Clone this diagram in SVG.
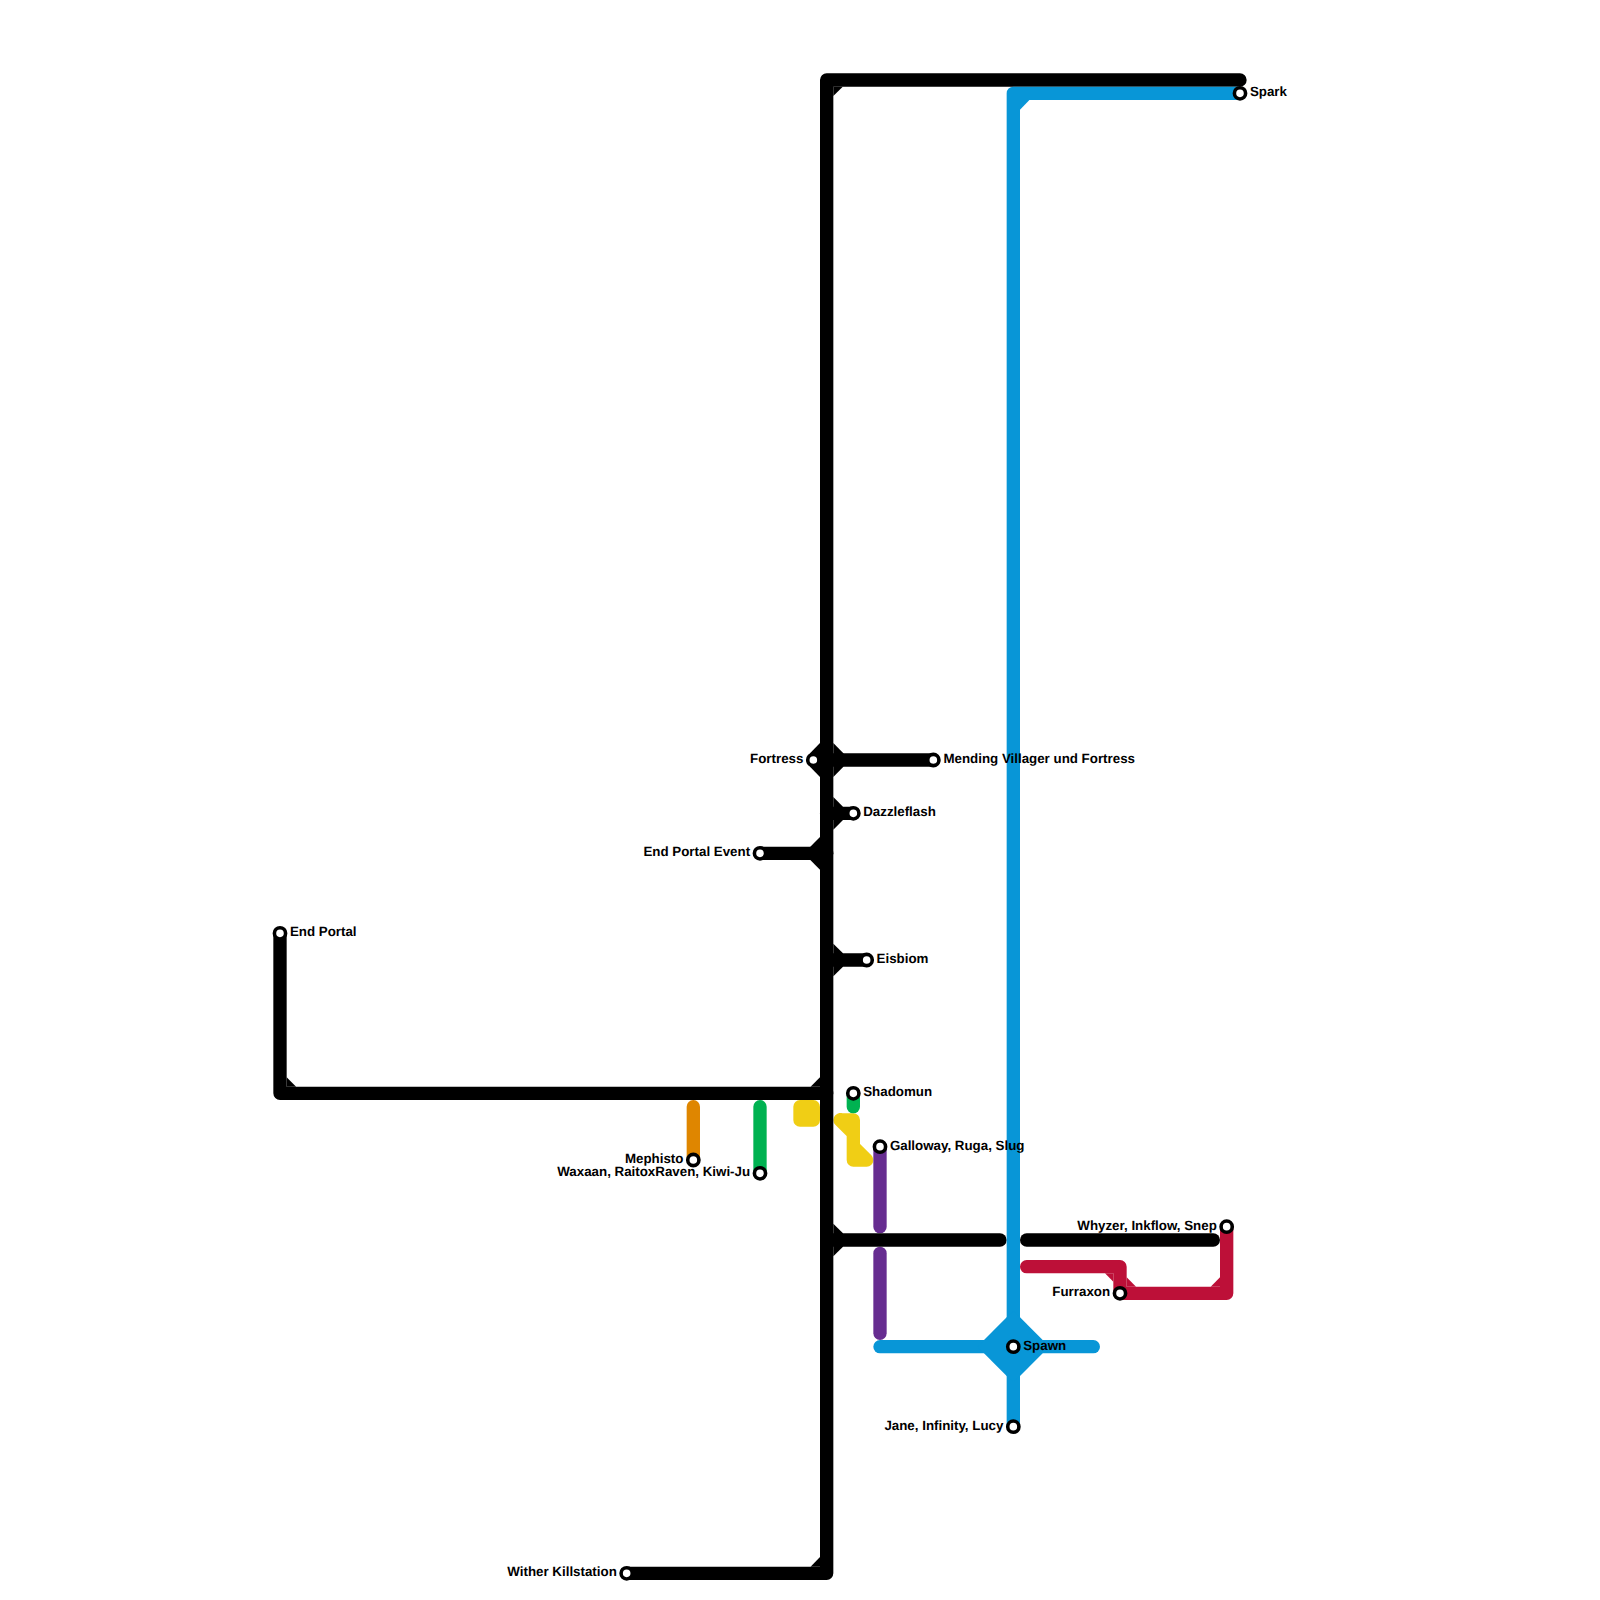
<svg xmlns="http://www.w3.org/2000/svg" width="1600" height="1600" viewBox="0 0 1600 1600">
<defs>
<style>
.l{fill:none;stroke-width:13.33;stroke-linecap:round;stroke-linejoin:round}
.k{stroke:#000}.b{stroke:#0896d7}.r{stroke:#bd1038}.y{stroke:#f0ce15;fill:#f0ce15}.g{stroke:#00b251}.o{stroke:#df8600}.p{stroke:#662c90}
.fk{fill:#000}.fb{fill:#0896d7}.fr{fill:#bd1038}
.s{fill:#fff;stroke:#000;stroke-width:3.6}
text{font-family:"Liberation Sans",Arial,sans-serif;font-weight:700;font-size:13.33px;fill:#000;text-rendering:geometricPrecision}
.e{text-anchor:end}
</style>
</defs>
<rect width="1600" height="1600" fill="#fff"/>
<g id="connectors">
<path class="l y" d="M800,1106.67H813.33V1120H800Z"/>
<path class="l y" d="M840,1120H853.33V1160H866.67L853.33,1146.67M840,1120L853.33,1133.33"/>
<path class="l g" d="M853.33,1093.33V1106.67"/>
<path class="l o" d="M693.33,1106.67V1160"/>
<path class="l g" d="M760,1106.67V1173.33"/>
<path class="l p" d="M880,1146.67V1226.67"/>
<path class="l p" d="M880,1253.33V1333.33"/>
<path class="l r" d="M1026.67,1266.67H1120V1293.33H1226.67V1226.67"/>
<polygon class="fr" points="1105,1273.33 1113.33,1281.7 1113.33,1273.33"/>
<polygon class="fr" points="1126.67,1277.3 1136.03,1286.67 1126.67,1286.67"/>
<polygon class="fr" points="1210.7,1286.67 1220,1277.3 1220,1286.67"/>
<path class="l k" d="M280,933.33V1093.33H826.67"/>
<path class="l k" d="M626.67,1573.33H826.67V80H1240"/>
<path class="l k" d="M826.67,760H933.33"/>
<path class="l k" d="M813.33,760H826.67"/>
<path class="l k" d="M826.67,813.33H853.33"/>
<path class="l k" d="M760,853.33H826.67"/>
<path class="l k" d="M826.67,960H866.67"/>
<path class="l k" d="M826.67,1240H1000"/>
<path class="l k" d="M1026.67,1240H1213.33"/>
<polygon class="fk" points="833.33,96.1 842.76,86.67 833.33,86.67"/>
<polygon class="fk" points="286.67,1077.33 296.1,1086.67 286.67,1086.67"/>
<polygon class="fk" points="820,1077.33 810.57,1086.67 820,1086.67"/>
<polygon class="fk" points="820,1557 810.57,1566.67 820,1566.67"/>
<polygon class="fk" points="820,743 810,753.33 810,766.67 820,777"/>
<polygon class="fk" points="833.33,743 843.4,753.33 843.4,766.67 833.33,777"/>
<polygon class="fk" points="833.33,797 843,806.67 843,820 833.33,829.67"/>
<polygon class="fk" points="820,837 810.3,846.67 810.3,860 820,869.67"/>
<polygon class="fk" points="833.33,943.67 843,953.33 843,966.67 833.33,976.33"/>
<polygon class="fk" points="833.33,1223.67 843,1233.33 843,1246.67 833.33,1256.33"/>
<path class="l b" d="M1240,93.33H1013.33V1426.67"/>
<path class="l b" d="M880,1346.67H1093.33"/>
<polygon class="fb" points="1020,109.7 1029.4,100 1020,100"/>
<polygon class="fb" points="1013.33,1311 1020,1317.33 1042.67,1340 1049,1346.67 1042.67,1353.33 1020,1376 1013.33,1382 1006.67,1376 984,1353.33 977.67,1346.67 984,1340 1006.67,1317.33"/>
</g>
<g id="node-end-portal"><circle class="s" cx="280" cy="933.33" r="5.6"/><text x="289.9" y="936.3">End Portal</text></g>
<g id="node-spark"><circle class="s" cx="1240" cy="93.33" r="5.6"/><text x="1249.9" y="96.3">Spark</text></g>
<g id="node-fortress"><circle class="s" cx="813.33" cy="760" r="5.6"/><text class="e" x="803.4" y="763">Fortress</text></g>
<g id="node-mending"><circle class="s" cx="933.33" cy="760" r="5.6"/><text x="943.4" y="763">Mending Villager und Fortress</text></g>
<g id="node-dazzleflash"><circle class="s" cx="853.33" cy="813.33" r="5.6"/><text x="863.2" y="816.3">Dazzleflash</text></g>
<g id="node-end-portal-event"><circle class="s" cx="760" cy="853.33" r="5.6"/><text class="e" x="750.1" y="856.3">End Portal Event</text></g>
<g id="node-eisbiom"><circle class="s" cx="866.67" cy="960" r="5.6"/><text x="876.6" y="963">Eisbiom</text></g>
<g id="node-shadomun"><circle class="s" cx="853.33" cy="1093.33" r="5.6"/><text x="863.2" y="1096.3">Shadomun</text></g>
<g id="node-galloway"><circle class="s" cx="880" cy="1146.67" r="5.6"/><text x="889.9" y="1149.6">Galloway, Ruga, Slug</text></g>
<g id="node-mephisto"><circle class="s" cx="693.33" cy="1160" r="5.6"/><text class="e" x="683.4" y="1163">Mephisto</text></g>
<g id="node-waxaan"><circle class="s" cx="760" cy="1173.33" r="5.6"/><text class="e" x="750.1" y="1176.3">Waxaan, RaitoxRaven, Kiwi-Ju</text></g>
<g id="node-whyzer"><circle class="s" cx="1226.67" cy="1226.67" r="5.6"/><text class="e" x="1216.8" y="1229.6">Whyzer, Inkflow, Snep</text></g>
<g id="node-furraxon"><circle class="s" cx="1120" cy="1293.33" r="5.6"/><text class="e" x="1110.1" y="1296.3">Furraxon</text></g>
<g id="node-spawn"><circle class="s" cx="1013.33" cy="1346.67" r="5.6"/><text x="1023.2" y="1349.6">Spawn</text></g>
<g id="node-jane"><circle class="s" cx="1013.33" cy="1426.67" r="5.6"/><text class="e" x="1003.4" y="1429.6">Jane, Infinity, Lucy</text></g>
<g id="node-wither"><circle class="s" cx="626.67" cy="1573.33" r="5.6"/><text class="e" x="616.8" y="1576.3">Wither Killstation</text></g>
</svg>
